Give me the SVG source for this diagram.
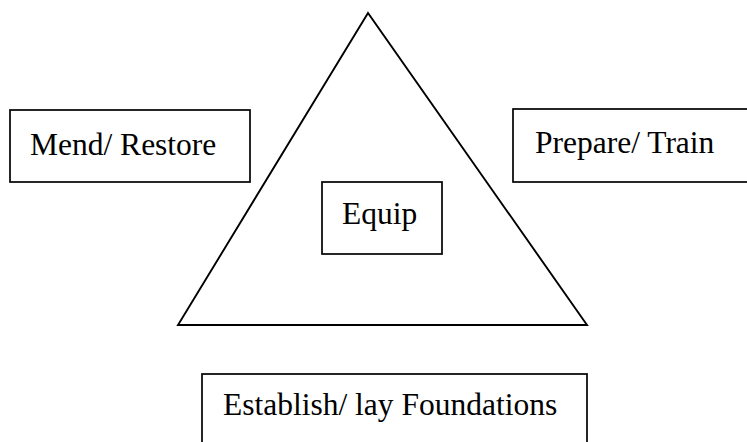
<svg xmlns="http://www.w3.org/2000/svg" width="747" height="442" viewBox="0 0 747 442">
<style>
.box{fill:#fff;stroke:#000;stroke-width:1.7}
.lbl{font-family:"Liberation Serif","Times New Roman",serif;font-size:31.5px;fill:#000}
.tri{fill:none;stroke:#000;stroke-width:1.9;stroke-linejoin:miter}
</style>
<rect width="747" height="442" fill="#fff"/>
<g id="triangle">
<polygon class="tri" points="368,13 178,325 587,325"/>
</g>
<g id="connectors"></g>
<g id="mend">
<rect class="box" x="10" y="110" width="240" height="72"/>
<text class="lbl" x="30" y="155">Mend/ Restore</text>
</g>
<g id="prepare">
<rect class="box" x="513" y="109" width="240" height="73"/>
<text class="lbl" x="535" y="153">Prepare/ Train</text>
</g>
<g id="equip">
<rect class="box" x="322" y="182" width="120" height="72"/>
<text class="lbl" x="342" y="224">Equip</text>
</g>
<g id="establish">
<rect class="box" x="202" y="374" width="385" height="80"/>
<text class="lbl" x="223" y="415">Establish/ lay Foundations</text>
</g>
</svg>
